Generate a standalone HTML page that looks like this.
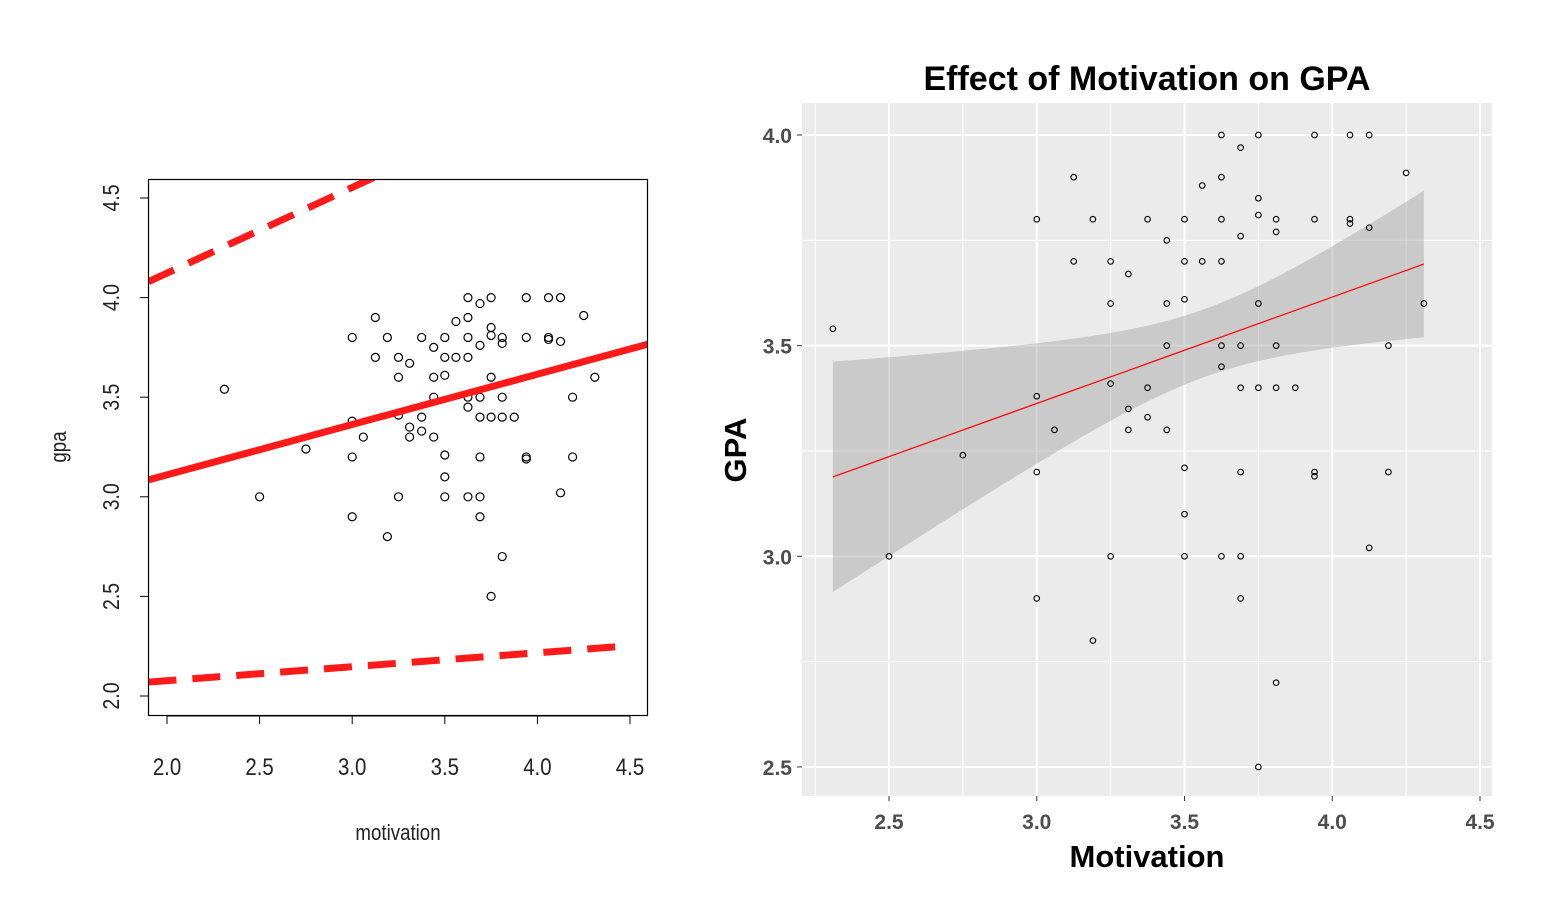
<!DOCTYPE html>
<html><head><meta charset="utf-8"><style>
body{margin:0;background:#fff;width:1552px;height:916px;overflow:hidden}
svg{display:block}
</style></head><body>
<svg id="s" width="1552" height="916" xmlns="http://www.w3.org/2000/svg">
<g id="left"></g>
<g id="right"></g>
</svg>
<script>
const motivation=[2.31,2.5,2.75,3.0,3.0,3.0,3.0,3.06,3.125,3.125,3.19,3.19,3.25,3.25,3.25,3.25,3.31,3.31,3.31,3.375,3.375,3.375,3.44,3.44,3.44,3.44,3.5,3.5,3.5,3.5,3.5,3.5,3.56,3.56,3.625,3.625,3.625,3.625,3.625,3.625,3.625,3.69,3.69,3.69,3.69,3.69,3.69,3.69,3.75,3.75,3.75,3.75,3.75,3.75,3.81,3.81,3.81,3.81,3.81,3.875,3.94,3.94,3.94,3.94,4.06,4.06,4.06,4.125,4.125,4.125,4.19,4.19,4.25,4.31];
const gpa=[3.54,3.0,3.24,3.8,3.38,3.2,2.9,3.3,3.9,3.7,3.8,2.8,3.7,3.6,3.41,3.0,3.67,3.35,3.3,3.8,3.4,3.33,3.75,3.6,3.5,3.3,3.8,3.7,3.61,3.21,3.1,3.0,3.88,3.7,4.0,3.9,3.8,3.7,3.5,3.45,3.0,3.97,3.76,3.5,3.4,3.2,3.0,2.9,4.0,3.85,3.81,3.6,3.4,2.5,3.8,3.77,3.5,3.4,2.7,3.4,4.0,3.8,3.2,3.19,4.0,3.8,3.79,4.0,3.78,3.02,3.5,3.2,3.91,3.6];
const fitCoef=[2.605,0.2526]; // intercept, slope of fitted line
const leftXTicks=[2.0,2.5,3.0,3.5,4.0,4.5];
const leftYTicks=[2.0,2.5,3.0,3.5,4.0,4.5];
const rightXTicks=[2.5,3.0,3.5,4.0,4.5];
const rightYTicks=[2.5,3.0,3.5,4.0];
const upperBand=[4.08,0.43]; // value at x=1.9, slope
const lowerBand=[2.07,0.07];

const NS="http://www.w3.org/2000/svg";
function mk(p,t,a,txt){const e=document.createElementNS(NS,t);for(const k in a)e.setAttribute(k,a[k]);if(txt!==undefined)e.textContent=txt;p.appendChild(e);return e;}
const n=motivation.length;const mx=motivation.reduce((a,b)=>a+b)/n;
let sxx=0;for(let i=0;i<n;i++){sxx+=(motivation[i]-mx)**2;}
const b0=fitCoef[0],b1=fitCoef[1];let sse=0;for(let i=0;i<n;i++)sse+=(gpa[i]-b0-b1*motivation[i])**2;
const s=Math.sqrt(sse/(n-2));
const xmin=Math.min(...motivation),xmax=Math.max(...motivation);

// LEFT
const L=document.getElementById('left');
const lx=v=>167+(v-2)*185.2, ly=v=>696-(v-2)*199.2;
let cp=mk(L,'clipPath',{id:'lc'});mk(cp,'rect',{x:148,y:179,width:500,height:537});
const lg=mk(L,'g',{'clip-path':'url(#lc)'});

motivation.forEach((m,i)=>{const c=mk(lg,'circle',{cx:lx(m),cy:ly(gpa[i]),r:4,fill:'none',stroke:'#000','stroke-width':1.2});
});
let e=mk(lg,'line',{x1:lx(1.8),y1:ly(b0+b1*1.8),x2:lx(4.7),y2:ly(b0+b1*4.7),stroke:'#ff1a1a','stroke-width':7});

[upperBand,lowerBand].forEach((b,k)=>{const xe=k?4.48:4.6;const l=mk(lg,'line',{x1:lx(1.9),y1:ly(b[0]),x2:lx(xe),y2:ly(b[0]+b[1]*(xe-1.9)),stroke:'#ff1a1a','stroke-width':7,'stroke-dasharray':'28,16'});
});
e=mk(L,'rect',{x:148.5,y:179.5,width:499,height:536,fill:'none',stroke:'#000','stroke-width':1.2});

mk(L,'line',{x1:lx(2),y1:716,x2:lx(4.5),y2:716,stroke:'#000'});
leftXTicks.forEach(t=>{mk(L,'line',{x1:lx(t),y1:716,x2:lx(t),y2:724,stroke:'#000'});
const tx=mk(L,'text',{x:lx(t),y:775,'text-anchor':'middle','font-family':'Liberation Sans, sans-serif','font-size':24,fill:'#222',transform:`translate(${lx(t)},0) scale(0.85,1) translate(${-lx(t)},0)`},t.toFixed(1));
});
leftYTicks.forEach(t=>{mk(L,'line',{x1:140,y1:ly(t),x2:148,y2:ly(t),stroke:'#000'});
const tx=mk(L,'text',{x:0,y:0,'text-anchor':'middle','font-family':'Liberation Sans, sans-serif','font-size':23,fill:'#222',transform:`translate(119,${ly(t)}) rotate(-90) scale(0.85,1)`},t.toFixed(1));
});
e=mk(L,'text',{x:0,y:0,'text-anchor':'middle','font-family':'Liberation Sans, sans-serif','font-size':22,fill:'#222',transform:'translate(398,840) scale(0.85,1)'},'motivation');

e=mk(L,'text',{x:0,y:0,'text-anchor':'middle','font-family':'Liberation Sans, sans-serif','font-size':22,fill:'#222',transform:'translate(66,447) rotate(-90) scale(0.85,1)'},'gpa');


// RIGHT
const R=document.getElementById('right');
const rx=v=>889+(v-2.5)*295.5, ry=v=>135+(4.0-v)*421.3;
e=mk(R,'rect',{x:802,y:103,width:690,height:693,fill:'#ebebeb'});

[2.25,2.75,3.25,3.75,4.25].forEach(t=>mk(R,'line',{x1:rx(t),y1:103,x2:rx(t),y2:796,stroke:'#fff','stroke-width':1}));
[2.75,3.25,3.75].forEach(t=>mk(R,'line',{x1:802,y1:ry(t),x2:1492,y2:ry(t),stroke:'#fff','stroke-width':1}));
rightXTicks.forEach(t=>{mk(R,'line',{x1:rx(t),y1:103,x2:rx(t),y2:796,stroke:'#fff','stroke-width':2});
mk(R,'line',{x1:rx(t),y1:796,x2:rx(t),y2:801,stroke:'#333'});
const tx=mk(R,'text',{x:rx(t),y:829,'text-anchor':'middle','font-family':'Liberation Sans, sans-serif','font-size':21,'font-weight':'bold',fill:'#4d4d4d'},t.toFixed(1));
});
rightYTicks.forEach(t=>{mk(R,'line',{x1:802,y1:ry(t),x2:1492,y2:ry(t),stroke:'#fff','stroke-width':2});
mk(R,'line',{x1:797,y1:ry(t),x2:802,y2:ry(t),stroke:'#333'});
const tx=mk(R,'text',{x:792,y:ry(t)+8,'text-anchor':'end','font-family':'Liberation Sans, sans-serif','font-size':21,'font-weight':'bold',fill:'#4d4d4d'},t.toFixed(1));
});
let up=[],lo=[];const N=60;
for(let i=0;i<=N;i++){const x=xmin+(xmax-xmin)*i/N;const yh=b0+b1*x;const se=s*Math.sqrt(1/n+(x-mx)**2/sxx);
up.push(rx(x)+','+ry(yh+1.993*se));lo.unshift(rx(x)+','+ry(yh-1.993*se));}
e=mk(R,'polygon',{points:up.concat(lo).join(' '),fill:'#999','fill-opacity':0.4});

e=mk(R,'line',{x1:rx(xmin),y1:ry(b0+b1*xmin),x2:rx(xmax),y2:ry(b0+b1*xmax),stroke:'#ff0000','stroke-width':1.2});

motivation.forEach((m,i)=>{const c=mk(R,'circle',{cx:rx(m),cy:ry(gpa[i]),r:2.8,fill:'none',stroke:'#000','stroke-width':1.1});
});
e=mk(R,'text',{x:1147,y:90,'text-anchor':'middle','font-family':'Liberation Sans, sans-serif','font-size':34,'font-weight':'bold',fill:'#000'},'Effect of Motivation on GPA');

e=mk(R,'text',{x:1147,y:867,'text-anchor':'middle','font-family':'Liberation Sans, sans-serif','font-size':31,'font-weight':'bold',fill:'#000'},'Motivation');

e=mk(R,'text',{x:0,y:0,'text-anchor':'middle','font-family':'Liberation Sans, sans-serif','font-size':31,'font-weight':'bold',fill:'#000',transform:'translate(746,450) rotate(-90)'},'GPA');

</script>
</body></html>
